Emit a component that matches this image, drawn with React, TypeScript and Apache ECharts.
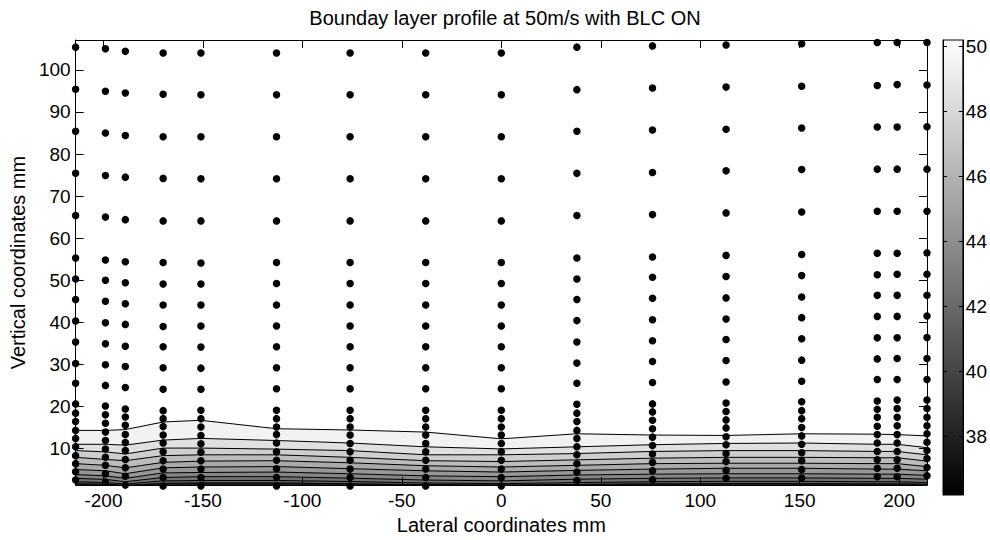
import React, { useEffect, useRef } from "react";
import * as echarts from "echarts";

// ---------- data ----------
const TITLE = "Bounday layer profile at 50m/s with BLC ON";
const X_NAME = "Lateral coordinates mm";
const Y_NAME = "Vertical coordinates mm";

const X_MIN = -214;
const X_MAX = 214;
const Y_MIN = 1.3;
const Y_MAX = 107.1;
const C_MIN = 36.2;
const C_MAX = 50.2;

const X_TICKS = [-200, -150, -100, -50, 0, 50, 100, 150, 200];
const Y_TICKS = [10, 20, 30, 40, 50, 60, 70, 80, 90, 100];
const C_TICKS = [38, 40, 42, 44, 46, 48, 50];

// lateral positions of the measurement columns (mm)
const X_COLS = [-214, -199, -189, -170, -151, -113, -76, -38, 0, 38, 76, 113, 151, 189, 199, 214];

// probe heights (mm) for each column
const PROBE_Y: number[][] = [
  [105.4, 95.4, 85.4, 75.4, 65.4, 55.3, 50.3, 45.4, 40.3, 35.3, 30.2, 25.5, 20.6, 18.4, 16.4, 14.3, 12.4, 10.4, 8.3, 6.4, 4.5, 2.5],
  [105.0, 94.9, 85.0, 74.9, 65.0, 54.8, 50.0, 45.0, 39.9, 34.9, 29.9, 25.0, 20.1, 18.0, 16.0, 13.9, 11.9, 9.9, 7.9, 6.0, 4.0, 2.0],
  [104.4, 94.5, 84.4, 74.5, 64.4, 54.4, 49.4, 44.4, 39.5, 34.3, 29.5, 24.5, 19.4, 17.5, 15.5, 13.3, 11.4, 9.5, 7.4, 5.4, 3.4, 1.3],
  [104.0, 94.2, 84.1, 74.2, 64.1, 54.2, 49.1, 44.1, 39.0, 34.2, 29.2, 24.1, 19.0, 17.1, 15.2, 13.2, 11.3, 9.2, 7.1, 5.1, 3.1, 1.1],
  [104.0, 94.1, 84.1, 74.1, 64.1, 54.1, 49.1, 44.1, 39.1, 34.1, 29.1, 24.1, 19.1, 17.1, 15.1, 13.1, 11.1, 9.1, 7.1, 5.1, 3.1, 1.1],
  [104.0, 94.1, 84.1, 74.1, 64.1, 54.2, 49.2, 44.1, 39.1, 34.2, 29.2, 24.2, 19.1, 17.1, 15.1, 13.3, 11.3, 9.2, 7.2, 5.2, 3.1, 1.1],
  [104.0, 94.1, 84.1, 74.1, 64.1, 54.2, 49.2, 44.1, 39.1, 34.2, 29.2, 24.2, 19.1, 17.1, 15.1, 13.2, 11.2, 9.2, 7.2, 5.1, 3.1, 1.1],
  [104.0, 94.1, 84.1, 74.1, 64.1, 54.2, 49.2, 44.1, 39.1, 34.2, 29.2, 24.2, 19.1, 17.1, 15.1, 13.2, 11.2, 9.2, 7.2, 5.1, 3.1, 1.1],
  [104.0, 94.1, 84.1, 74.1, 64.1, 54.2, 49.2, 44.1, 39.1, 34.2, 29.2, 24.2, 19.1, 17.1, 15.1, 13.2, 11.2, 9.2, 7.2, 5.1, 3.1, 1.1],
  [105.4, 95.3, 85.4, 75.4, 65.4, 55.3, 50.3, 45.4, 40.4, 35.3, 30.3, 25.5, 20.5, 18.4, 16.4, 14.3, 12.4, 10.4, 8.5, 6.4, 4.4, 2.4],
  [105.7, 95.7, 85.7, 75.6, 65.6, 55.5, 50.7, 45.7, 40.6, 35.6, 30.7, 25.7, 20.6, 18.7, 16.7, 14.7, 12.7, 10.7, 8.7, 6.7, 4.7, 2.6],
  [105.9, 95.9, 85.9, 76.0, 66.0, 55.9, 50.9, 45.8, 40.8, 35.9, 30.9, 25.8, 20.8, 18.8, 16.8, 14.9, 12.8, 10.9, 8.8, 6.9, 4.8, 2.9],
  [106.2, 96.1, 86.2, 76.3, 66.2, 56.1, 51.1, 46.0, 41.1, 36.1, 31.0, 26.0, 21.1, 19.0, 17.1, 15.0, 13.0, 11.0, 9.0, 7.1, 5.0, 3.0],
  [106.5, 96.3, 86.4, 76.4, 66.4, 56.4, 51.3, 46.4, 41.4, 36.3, 31.3, 26.4, 21.3, 19.3, 17.4, 15.3, 13.3, 11.3, 9.3, 7.3, 5.3, 3.3],
  [106.5, 96.5, 86.4, 76.4, 66.4, 56.4, 51.4, 46.4, 41.4, 36.3, 31.4, 26.4, 21.5, 19.5, 17.4, 15.4, 13.3, 11.3, 9.3, 7.3, 5.3, 3.3],
  [106.5, 96.4, 86.5, 76.4, 66.4, 56.5, 51.4, 46.4, 41.5, 36.4, 31.4, 26.4, 21.5, 19.5, 17.4, 15.4, 13.5, 11.5, 9.5, 7.6, 5.5, 3.5],
];

// contour levels (m/s) and their heights (mm) at each column
const LEVELS = [50, 49, 48, 47, 46, 45, 44, 43, 42, 41];
const LEVEL_HEIGHTS: number[][] = [
  [14.3, 14.3, 14.5, 16.3, 16.7, 14.7, 14.4, 13.9, 12.3, 13.5, 13.2, 13.1, 13.5, 13.4, 13.3, 13.0],
  [11.0, 11.0, 10.8, 12.0, 12.4, 11.9, 11.3, 10.4, 9.9, 10.4, 10.9, 11.2, 11.3, 11.0, 11.0, 10.2],
  [9.5, 9.2, 8.7, 10.1, 10.1, 9.85, 9.5, 8.5, 8.5, 8.8, 9.3, 9.5, 9.5, 9.3, 9.3, 8.5],
  [7.9, 7.4, 7.1, 8.3, 8.5, 8.5, 7.9, 7.1, 6.9, 7.3, 7.7, 7.9, 7.9, 7.8, 7.8, 7.0],
  [6.4, 6.0, 5.4, 6.7, 7.0, 7.1, 6.6, 5.9, 5.6, 6.0, 6.4, 6.5, 6.5, 6.4, 6.4, 5.7],
  [5.0, 4.7, 4.0, 5.4, 5.6, 5.7, 5.2, 4.7, 4.4, 4.8, 5.1, 5.3, 5.3, 5.1, 5.1, 4.7],
  [3.8, 3.5, 2.9, 4.2, 4.3, 4.4, 4.0, 3.5, 3.3, 3.7, 3.9, 4.0, 4.0, 3.9, 3.9, 3.6],
  [2.9, 2.65, 2.1, 3.1, 3.3, 3.3, 2.95, 2.5, 2.3, 2.7, 2.9, 3.0, 3.0, 2.9, 2.9, 2.7],
  [2.1, 1.9, 1.55, 2.3, 2.4, 2.4, 2.15, 1.8, 1.65, 1.9, 2.1, 2.2, 2.2, 2.1, 2.1, 1.9],
  [1.6, 1.5, 1.2, 1.7, 1.8, 1.8, 1.6, 1.4, 1.3, 1.45, 1.6, 1.65, 1.65, 1.6, 1.6, 1.5],
];
const BOTTOM_LEVEL = 38;

// ---------- styling ----------
const FONT = "'Liberation Sans', Arial, Helvetica, sans-serif";

function gray(v: number): string {
  let t = (v - C_MIN) / (C_MAX - C_MIN);
  t = Math.max(0, Math.min(1, t));
  const g = Math.round(255 * t);
  return `rgb(${g},${g},${g})`;
}

// fill colour of band i (0 = above the highest level)
function bandColor(i: number): string {
  if (i === 0) return gray(C_MAX);
  if (i >= LEVELS.length) return gray(BOTTOM_LEVEL);
  return gray((LEVELS[i - 1] + LEVELS[i]) / 2);
}

export default function App() {
  const ref = useRef<HTMLDivElement>(null);

  useEffect(() => {
    if (!ref.current) return;
    const chart = echarts.init(ref.current, null, { renderer: "svg" });

    const nBands = LEVELS.length + 1;
    const bandIdx = Array.from({ length: nBands }, (_, i) => [i]);

    const scatterData: number[][] = [];
    X_COLS.forEach((x, j) => PROBE_Y[j].forEach((y) => scatterData.push([x, y])));

    const lineSeries = LEVELS.map((lv, k) => ({
      type: "line",
      name: `L${lv}`,
      xAxisIndex: 0,
      yAxisIndex: 0,
      data: X_COLS.map((x, j) => [x, LEVEL_HEIGHTS[k][j]]),
      showSymbol: false,
      symbol: "none",
      lineStyle: { color: "#000", width: 1 },
      z: 3,
      silent: true,
      clip: true,
    }));

    const axisCommon = {
      axisLine: { show: true, onZero: false, lineStyle: { color: "#000", width: 1 } },
      splitLine: { show: false },
    };

    const option: any = {
      animation: false,
      backgroundColor: "#fff",
      title: {
        text: TITLE,
        left: 500,
        top: 3,
        textAlign: "center",
        textStyle: { fontFamily: FONT, fontSize: 20, fontWeight: "normal", color: "#000" },
      },
      grid: [
        { left: 73, right: 63, top: 40, bottom: 45 },
        { left: 943, width: 20, top: 40, bottom: 45 },
      ],
      xAxis: [
        {
          type: "value",
          gridIndex: 0,
          position: "bottom",
          min: X_MIN,
          max: X_MAX,
          ...axisCommon,
          axisTick: { show: true, inside: true, length: 8, customValues: X_TICKS, lineStyle: { color: "#000" } },
          axisLabel: { show: true, customValues: X_TICKS, margin: 6, color: "#000", fontSize: 19, fontFamily: FONT },
          name: X_NAME,
          nameLocation: "middle",
          nameGap: 23,
          nameTextStyle: { fontSize: 20, fontFamily: FONT, color: "#000" },
          z: 10,
        },
        {
          type: "value",
          gridIndex: 0,
          position: "top",
          min: X_MIN,
          max: X_MAX,
          ...axisCommon,
          axisTick: { show: true, inside: true, length: 8, customValues: X_TICKS, lineStyle: { color: "#000" } },
          axisLabel: { show: false },
          z: 10,
        },
        {
          type: "value",
          gridIndex: 1,
          min: 0,
          max: 1,
          show: false,
        },
      ],
      yAxis: [
        {
          type: "value",
          gridIndex: 0,
          position: "left",
          min: Y_MIN,
          max: Y_MAX,
          ...axisCommon,
          axisTick: { show: true, inside: true, length: 8, customValues: Y_TICKS, lineStyle: { color: "#000" } },
          axisLabel: { show: true, customValues: Y_TICKS, margin: 5, color: "#000", fontSize: 19, fontFamily: FONT },
          name: Y_NAME,
          nameLocation: "middle",
          nameRotate: 90,
          nameGap: 39,
          nameTextStyle: { fontSize: 20, fontFamily: FONT, color: "#000" },
          z: 10,
        },
        {
          type: "value",
          gridIndex: 0,
          position: "right",
          min: Y_MIN,
          max: Y_MAX,
          ...axisCommon,
          axisTick: { show: true, inside: true, length: 8, customValues: Y_TICKS, lineStyle: { color: "#000" } },
          axisLabel: { show: false },
          z: 10,
        },
        {
          type: "value",
          gridIndex: 1,
          position: "left",
          min: C_MIN,
          max: C_MAX,
          ...axisCommon,
          axisTick: { show: true, inside: true, length: 4, customValues: C_TICKS, lineStyle: { color: "#000" } },
          axisLabel: { show: false },
          z: 10,
        },
        {
          type: "value",
          gridIndex: 1,
          position: "right",
          min: C_MIN,
          max: C_MAX,
          ...axisCommon,
          axisTick: { show: true, inside: true, length: 4, customValues: C_TICKS, lineStyle: { color: "#000" } },
          axisLabel: { show: true, customValues: C_TICKS, margin: 3, color: "#000", fontSize: 19, fontFamily: FONT },
          z: 10,
        },
      ],
      series: [
        {
          type: "custom",
          name: "bands",
          xAxisIndex: 0,
          yAxisIndex: 0,
          silent: true,
          z: 1,
          data: bandIdx,
          renderItem: (params: any, api: any) => {
            const i = api.value(0);
            const topH = i === 0 ? X_COLS.map(() => Y_MAX) : LEVEL_HEIGHTS[i - 1];
            const botH = i === LEVELS.length ? X_COLS.map(() => Y_MIN) : LEVEL_HEIGHTS[i];
            const pts: number[][] = [];
            X_COLS.forEach((x, j) => pts.push(api.coord([x, Math.max(topH[j], Y_MIN)])));
            for (let j = X_COLS.length - 1; j >= 0; j--) {
              pts.push(api.coord([X_COLS[j], Math.max(botH[j], Y_MIN)]));
            }
            const c = bandColor(i);
            return {
              type: "polygon",
              shape: { points: pts },
              style: { fill: c, stroke: c, lineWidth: 0.5 },
            };
          },
        },
        ...lineSeries,
        {
          type: "scatter",
          name: "probes",
          xAxisIndex: 0,
          yAxisIndex: 0,
          data: scatterData,
          symbol: "circle",
          symbolSize: 7.5,
          itemStyle: { color: "#000", opacity: 1 },
          clip: false,
          silent: true,
          z: 5,
        },
        {
          type: "custom",
          name: "colorbar",
          xAxisIndex: 2,
          yAxisIndex: 2,
          silent: true,
          z: 1,
          data: [[0]],
          renderItem: (params: any, api: any) => {
            const p0 = api.coord([0, C_MAX]);
            const p1 = api.coord([1, C_MIN]);
            return {
              type: "rect",
              shape: { x: p0[0], y: p0[1], width: p1[0] - p0[0], height: p1[1] - p0[1] },
              style: {
                fill: new echarts.graphic.LinearGradient(0, 0, 0, 1, [
                  { offset: 0, color: gray(C_MAX) },
                  { offset: 1, color: gray(C_MIN) },
                ]),
                stroke: "#000",
                lineWidth: 1,
              },
            };
          },
        },
      ],
    };

    chart.setOption(option);
    return () => chart.dispose();
  }, []);

  return (
    <div
      ref={ref}
      style={{ position: "fixed", left: 0, top: 0, width: 990, height: 540 }}
    />
  );
}
